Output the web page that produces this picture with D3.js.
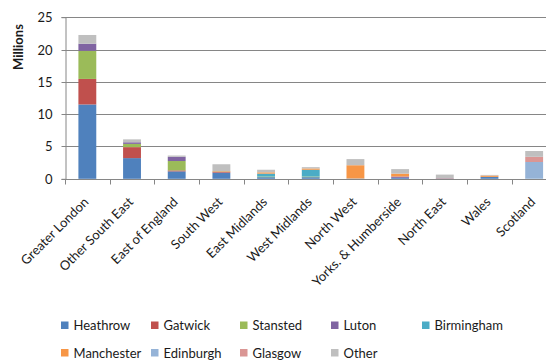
<!DOCTYPE html>
<html>
<head>
<meta charset="utf-8">
<script src="https://cdn.jsdelivr.net/npm/d3@7"></script>
<style>
  html, body { margin: 0; padding: 0; background: #fff; overflow: hidden; }
  svg { display: block; font-family: Lato, "Open Sans", sans-serif; }
</style>
</head>
<body>
<svg id="chart" width="546" height="360"></svg>
<script>
const regions = ["Greater London", "Other South East", "East of England", "South West",
  "East Midlands", "West Midlands", "North West", "Yorks. & Humberside", "North East",
  "Wales", "Scotland"];
const seriesNames = ["Heathrow", "Gatwick", "Stansted", "Luton", "Birmingham",
  "Manchester", "Edinburgh", "Glasgow", "Other"];
const seriesColors = ["#4F81BD", "#C0504D", "#9BBB59", "#8064A2", "#4BACC6",
  "#F79646", "#95B3D7", "#DA9694", "#BFBFBF"];

// values in millions, one per region (same order as regions)
const heathrow   = [11.5, 3.2, 1.15, 0.95, 0.25, 0.25, 0.05, 0.15, 0.05, 0.3, 0.05];
const gatwick    = [3.95, 1.7, 0.15, 0.15, 0,    0,    0,    0,    0.05, 0,   0];
const stansted   = [4.35, 0.5, 1.45, 0.05, 0.1,  0.1,  0,    0,    0,    0,   0];
const luton      = [1.1,  0.25, 0.65, 0,   0,    0,    0,    0.2,  0,    0,   0];
const birmingham = [0,    0,   0,    0,    0.45, 1.05, 0,    0,    0,    0,   0];
const manchester = [0,    0,   0,    0.05, 0.2,  0.2,  2.05, 0.45, 0,    0.2, 0];
const edinburgh  = [0,    0,   0,    0,    0,    0,    0,    0,    0,    0,   2.55];
const glasgow    = [0,    0,   0,    0,    0,    0,    0,    0,    0,    0,   0.8];
const other      = [1.35, 0.45, 0.2, 1.05, 0.4,  0.2,  0.95, 0.7,  0.55, 0.1, 0.9];

const yTicks = [0, 5, 10, 15, 20, 25];

const seriesValues = [heathrow, gatwick, stansted, luton, birmingham, manchester, edinburgh, glasgow, other];

const rows = regions.map((r, i) => {
  const o = { region: r };
  seriesNames.forEach((s, j) => { o[s] = seriesValues[j][i]; });
  return o;
});

const svg = d3.select("#chart");
const mLeft = 65, mRight = 556.5, mTop = 17.2, mBottom = 178.8;

const x = d3.scaleBand().domain(regions).range([mLeft, mRight]).paddingInner(0.6).paddingOuter(0.3);
const xStep = d3.scaleBand().domain(regions).range([mLeft, mRight]);
const y = d3.scaleLinear().domain([0, 25]).range([mBottom, mTop]);

const gridColor = "#868686";
const textColor = "#1a1a1a";

// gridlines
svg.append("g").selectAll("line").data(yTicks.filter(d => d > 0)).join("line")
  .attr("x1", mLeft).attr("x2", 546)
  .attr("y1", d => Math.round(y(d)) + 0.5).attr("y2", d => Math.round(y(d)) + 0.5)
  .attr("stroke", gridColor).attr("stroke-width", 1);

// y axis
const yAxis = svg.append("g").attr("transform", `translate(${mLeft + 0.5},0)`)
  .call(d3.axisLeft(y).tickValues(yTicks).tickSize(4).tickPadding(9).tickFormat(d3.format("d")));
yAxis.select(".domain").attr("stroke", gridColor);
yAxis.selectAll(".tick line").attr("stroke", gridColor);
yAxis.selectAll(".tick text").attr("font-size", 13).attr("fill", textColor)
  .attr("font-family", "Lato, sans-serif");
yAxis.selectAll(".tick").attr("transform", d => `translate(0,${Math.round(y(d)) + 0.5})`);

// stacked bars
const stack = d3.stack().keys(seriesNames);
const stacked = stack(rows);
svg.append("g").selectAll("g").data(stacked).join("g")
  .attr("fill", (d, i) => seriesColors[i])
  .selectAll("rect").data(d => d).join("rect")
  .attr("x", d => x(d.data.region))
  .attr("width", x.bandwidth())
  .attr("y", d => y(d[1]))
  .attr("height", d => Math.max(0, y(d[0]) - y(d[1])));

// x axis
const xAxisG = svg.append("g").attr("transform", `translate(0,${Math.round(mBottom) + 0.5})`);
xAxisG.append("line").attr("x1", mLeft).attr("x2", 546).attr("stroke", gridColor);
xAxisG.selectAll("line.tk").data(regions.concat(["__end"])).join("line").attr("class", "tk")
  .attr("x1", (d, i) => Math.round(mLeft + i * xStep.step()) + 0.5)
  .attr("x2", (d, i) => Math.round(mLeft + i * xStep.step()) + 0.5)
  .attr("y1", 0).attr("y2", 5).attr("stroke", gridColor);

svg.append("g").selectAll("text").data(regions).join("text")
  .attr("transform", d => `translate(${x(d) + x.bandwidth() / 2 + 2},${mBottom + 24}) rotate(-45)`)
  .attr("text-anchor", "end")
  .attr("font-size", 13).attr("fill", textColor)
  .text(d => d);

// y axis title
svg.append("text")
  .attr("transform", `translate(23,47) rotate(-90)`)
  .attr("text-anchor", "middle")
  .attr("font-size", 13).attr("font-weight", "bold").attr("fill", textColor)
  .text("Millions");

// legend
const legendCols = [61, 151, 240, 331, 422];
const legendRows = [325.5, 353];
const legend = svg.append("g").selectAll("g").data(seriesNames).join("g")
  .attr("transform", (d, i) => `translate(${legendCols[i % 5]},${legendRows[Math.floor(i / 5)]})`);
legend.append("rect").attr("x", 0).attr("y", -4).attr("width", 7.5).attr("height", 7.5)
  .attr("fill", (d, i) => seriesColors[i]);
legend.append("text").attr("x", 12.5).attr("y", 4.8)
  .attr("font-size", 13).attr("fill", textColor).text(d => d);
</script>
</body>
</html>
